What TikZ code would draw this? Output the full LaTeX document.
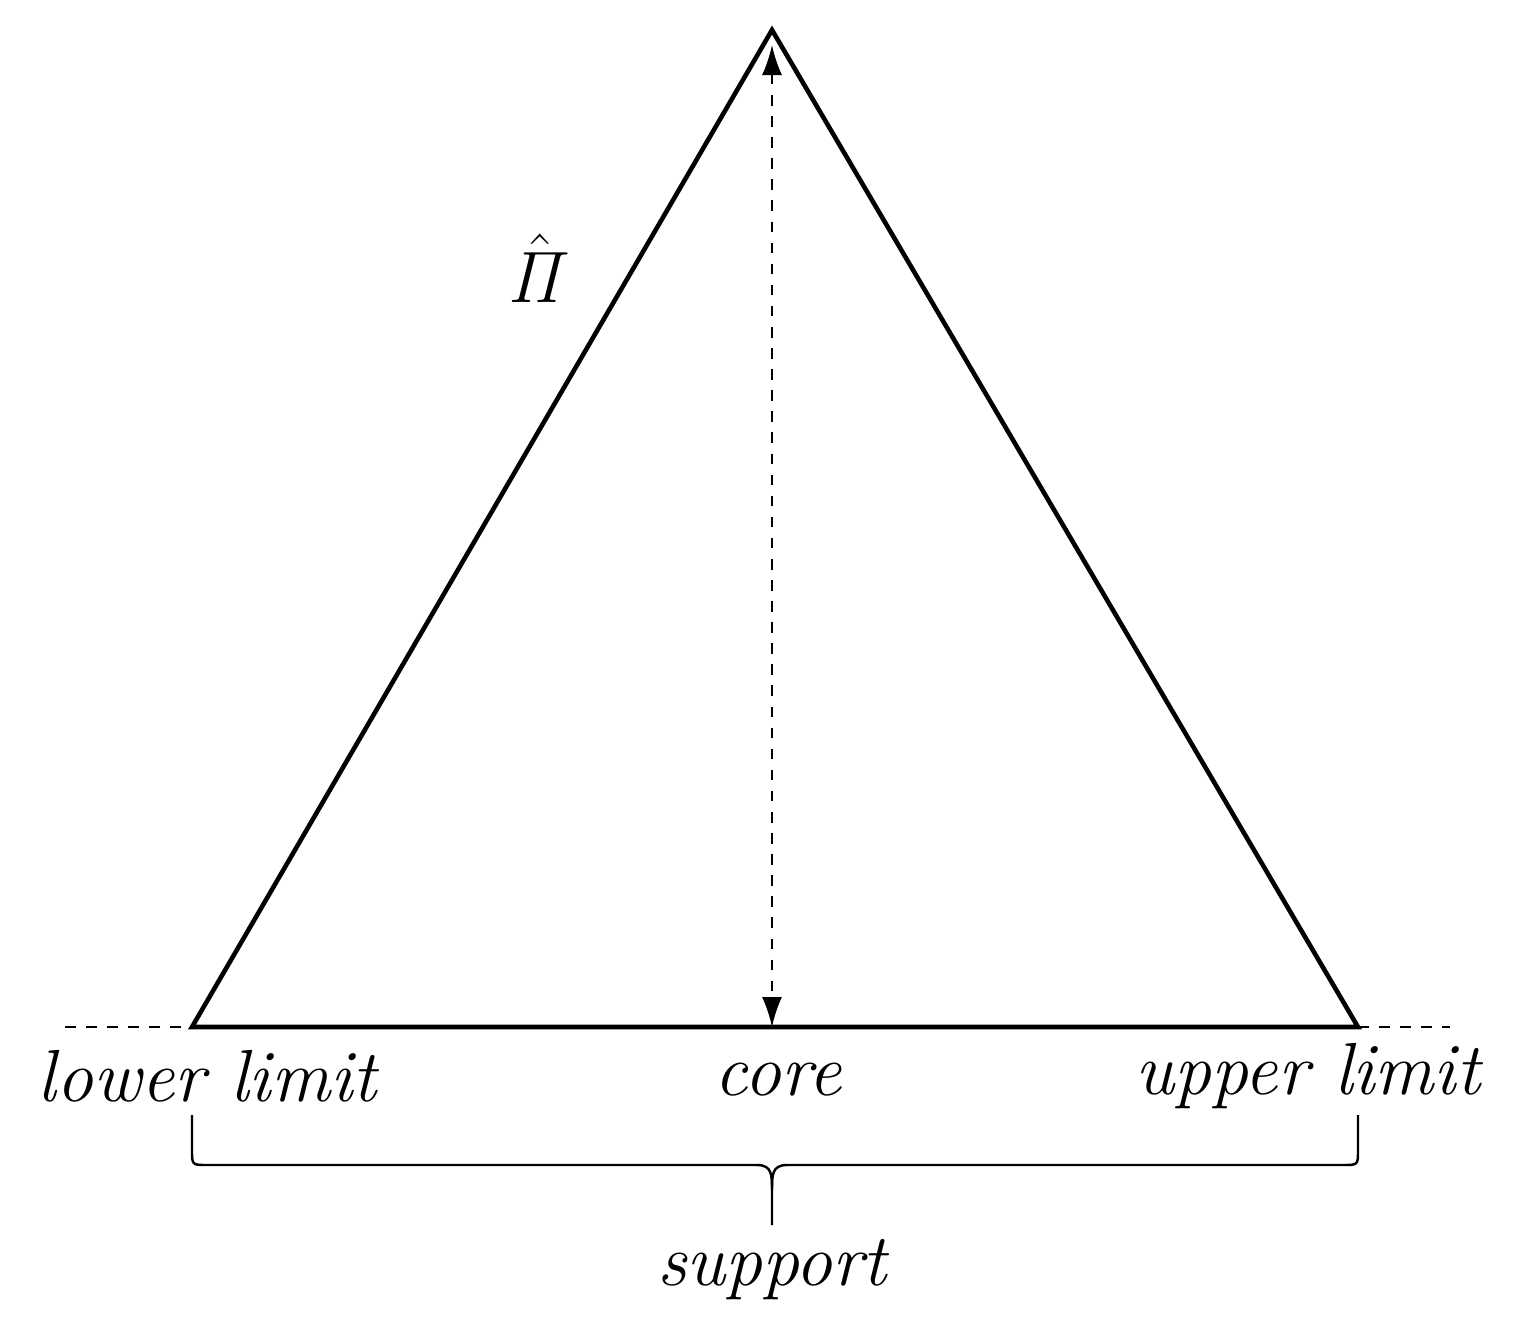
\documentclass[tikz,border=0pt]{standalone}
\usetikzlibrary{arrows.meta}
\begin{document}
\begin{tikzpicture}[x=0.1mm,y=-0.1mm,
  lab/.style={font=\fontsize{21}{25}\selectfont\itshape, inner sep=0pt}]
\useasboundingbox (0,0) rectangle (1516,1318);
\coordinate (apex) at (772,30);
\coordinate (L) at (192,1027);
\coordinate (R) at (1358,1027);
\coordinate (dl) at (65,1027);
\coordinate (dr) at (1450,1027);
\coordinate (atop) at (772,45);
\coordinate (abot) at (772,1027);
\draw[dashed, line width=0.6pt] (dl) -- (L);
\draw[dashed, line width=0.6pt] (R) -- (dr);
\draw[line width=1.3pt, line join=miter] (L) -- (apex) -- (R) -- cycle;
\draw[dashed, line width=0.6pt, {Latex[length=3mm,width=2mm]}-{Latex[length=3mm,width=2mm]}] (atop) -- (abot);
\node[lab] (pi) at (540,268) {$\hat{\mathit{\Pi}}$};
\node[lab] (lo) at (207,1076) {lower limit};
\node[lab] (co) at (778,1080) {core};
\node[lab] (up) at (1308,1076) {upper limit};
\coordinate (bl) at (192,1115);
\coordinate (br) at (1358,1115);
\coordinate (bt) at (772,1225);
\draw[line width=0.7pt] (bl) -- (192,1150) .. controls (192,1165) .. (207,1165)
  -- (757,1165) .. controls (772,1165) and (772,1175) .. (772,1190) -- (bt);
\draw[line width=0.7pt] (br) -- (1358,1150) .. controls (1358,1165) .. (1343,1165)
  -- (787,1165) .. controls (772,1165) and (772,1175) .. (772,1190);
\node[lab] (su) at (772,1270) {support};
\end{tikzpicture}
\end{document}
